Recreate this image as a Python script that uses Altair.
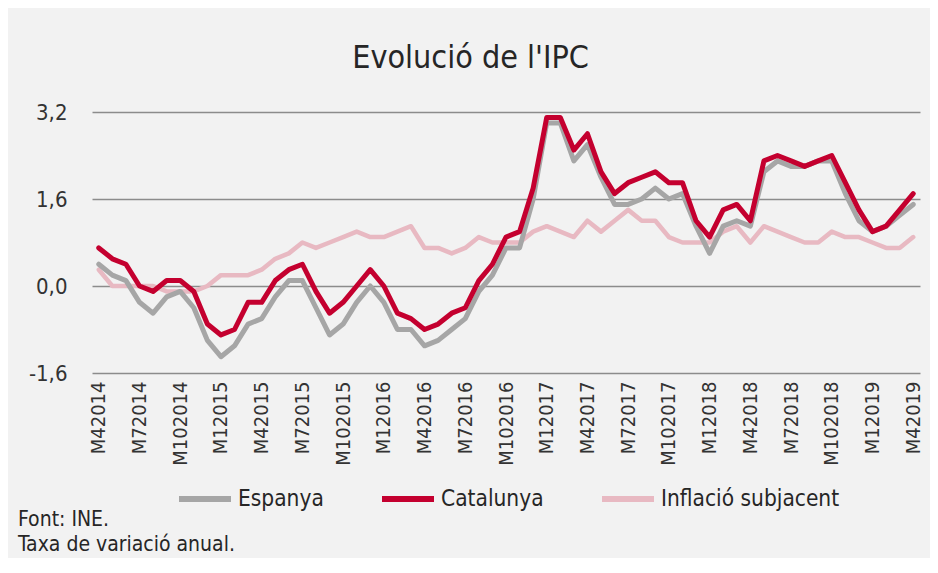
import altair as alt
import pandas as pd

# Month labels M{month}{year}, April 2014 .. April 2019
months = []
for y in range(2014, 2020):
    for m in range(1, 13):
        if (y == 2014 and m < 4) or (y == 2019 and m > 4):
            continue
        months.append(f"M{m}{y}")

tick_labels = months[::3]

espanya = [0.4, 0.2, 0.1, -0.3, -0.5, -0.2, -0.1, -0.4, -1.0, -1.3, -1.1, -0.7, -0.6, -0.2, 0.1, 0.1, -0.4, -0.9, -0.7, -0.3, 0.0,
           -0.3, -0.8, -0.8, -1.1, -1.0, -0.8, -0.6, -0.1, 0.2, 0.7, 0.7, 1.6, 3.0, 3.0, 2.3, 2.6, 2.0, 1.5, 1.5, 1.6,
           1.8, 1.6, 1.7, 1.1, 0.6, 1.1, 1.2, 1.1, 2.1, 2.3, 2.2, 2.2, 2.3, 2.3, 1.7, 1.2, 1.0, 1.1, 1.3, 1.5]
catalunya = [0.7, 0.5, 0.4, 0.0, -0.1, 0.1, 0.1, -0.1, -0.7, -0.9, -0.8, -0.3, -0.3, 0.1, 0.3, 0.4, -0.1, -0.5, -0.3, 0.0, 0.3,
             0.0, -0.5, -0.6, -0.8, -0.7, -0.5, -0.4, 0.1, 0.4, 0.9, 1.0, 1.8, 3.1, 3.1, 2.5, 2.8, 2.1, 1.7, 1.9, 2.0,
             2.1, 1.9, 1.9, 1.2, 0.9, 1.4, 1.5, 1.2, 2.3, 2.4, 2.3, 2.2, 2.3, 2.4, 1.9, 1.4, 1.0, 1.1, 1.4, 1.7]
subjacent = [0.3, 0.0, 0.0, 0.0, 0.0, -0.1, -0.1, -0.1, 0.0, 0.2, 0.2, 0.2, 0.3, 0.5, 0.6, 0.8, 0.7, 0.8, 0.9, 1.0, 0.9,
             0.9, 1.0, 1.1, 0.7, 0.7, 0.6, 0.7, 0.9, 0.8, 0.8, 0.8, 1.0, 1.1, 1.0, 0.9, 1.2, 1.0, 1.2, 1.4, 1.2,
             1.2, 0.9, 0.8, 0.8, 0.8, 1.0, 1.1, 0.8, 1.1, 1.0, 0.9, 0.8, 0.8, 1.0, 0.9, 0.9, 0.8, 0.7, 0.7, 0.9]

series_names = ["Espanya", "Catalunya", "Inflació subjacent"]
series_colors = ["#A6A6A6", "#C4002F", "#E8B9C2"]
footnotes = ["Font: INE.", "Taxa de variació anual."]

rows = []
for name, vals in zip(series_names, [espanya, catalunya, subjacent]):
    for mth, v in zip(months, vals):
        rows.append({"mes": mth, "serie": name, "valor": v})
df = pd.DataFrame(rows)

FONT = "DejaVu Sans Condensed, sans-serif"

x_enc = alt.X("mes:N", sort=months,
              scale=alt.Scale(type="point", padding=0.5),
              axis=alt.Axis(title=None, values=tick_labels, labelAngle=270, labelAlign="right",
                            labelBaseline="middle", ticks=False, domain=False, grid=False,
                            labelPadding=8, labelFontSize=20, labelColor="#333333", labelFont=FONT,
                            labelOverlap=False))
y_enc = alt.Y("valor:Q",
              scale=alt.Scale(domain=[-1.6, 3.2], nice=False, zero=False),
              axis=alt.Axis(title=None, values=[-1.6, 0.0, 1.6, 3.2],
                            labelExpr="replace(replace(format(datum.value, '.1f'), '.', ','), '\u2212', '-')",
                            ticks=False, domain=False, grid=True, gridColor="#8C8C8C", gridWidth=1.6,
                            labelPadding=25, labelFontSize=22, labelColor="#333333", labelFont=FONT))
color_enc = alt.Color("serie:N",
                      scale=alt.Scale(domain=series_names, range=series_colors),
                      legend=alt.Legend(title=None, orient="none", direction="horizontal",
                                        legendX=84, legendY=358, symbolType="stroke",
                                        symbolSize=2704, symbolStrokeWidth=6,
                                        labelFontSize=22.5, labelFont=FONT, labelColor="#262626",
                                        columnPadding=46, labelOffset=4, labelLimit=300))

base = alt.Chart(df)

def line(name, width):
    return base.transform_filter(alt.datum.serie == name).mark_line(
        strokeWidth=width, strokeCap="round", strokeJoin="round"
    ).encode(x=x_enc, y=y_enc, color=color_enc)

note1 = alt.Chart(pd.DataFrame({"t": [footnotes[0]]})).mark_text(
    align="left", baseline="alphabetic", fontSize=21, font=FONT, color="#262626"
).encode(text="t:N", x=alt.value(-74), y=alt.value(414))
note2 = alt.Chart(pd.DataFrame({"t": [footnotes[1]]})).mark_text(
    align="left", baseline="alphabetic", fontSize=21, font=FONT, color="#262626"
).encode(text="t:N", x=alt.value(-74), y=alt.value(439))

chart = alt.layer(
    line("Inflació subjacent", 4.5),
    line("Espanya", 5),
    line("Catalunya", 5),
    note1, note2,
).properties(
    width=828, height=261,
    title=alt.TitleParams("Evolució de l'IPC", fontSize=32, font=FONT, fontWeight="normal",
                          color="#262626", anchor="middle", frame="bounds",
                          baseline="alphabetic", offset=1),
    autosize=alt.AutoSizeParams(type="none"),
    padding={"left": 84, "top": 104, "right": 10, "bottom": 185},
    background="#F2F2F2",
).configure_view(stroke=None)

chart.save("out.html", embed_options={"renderer": "svg", "actions": False})
